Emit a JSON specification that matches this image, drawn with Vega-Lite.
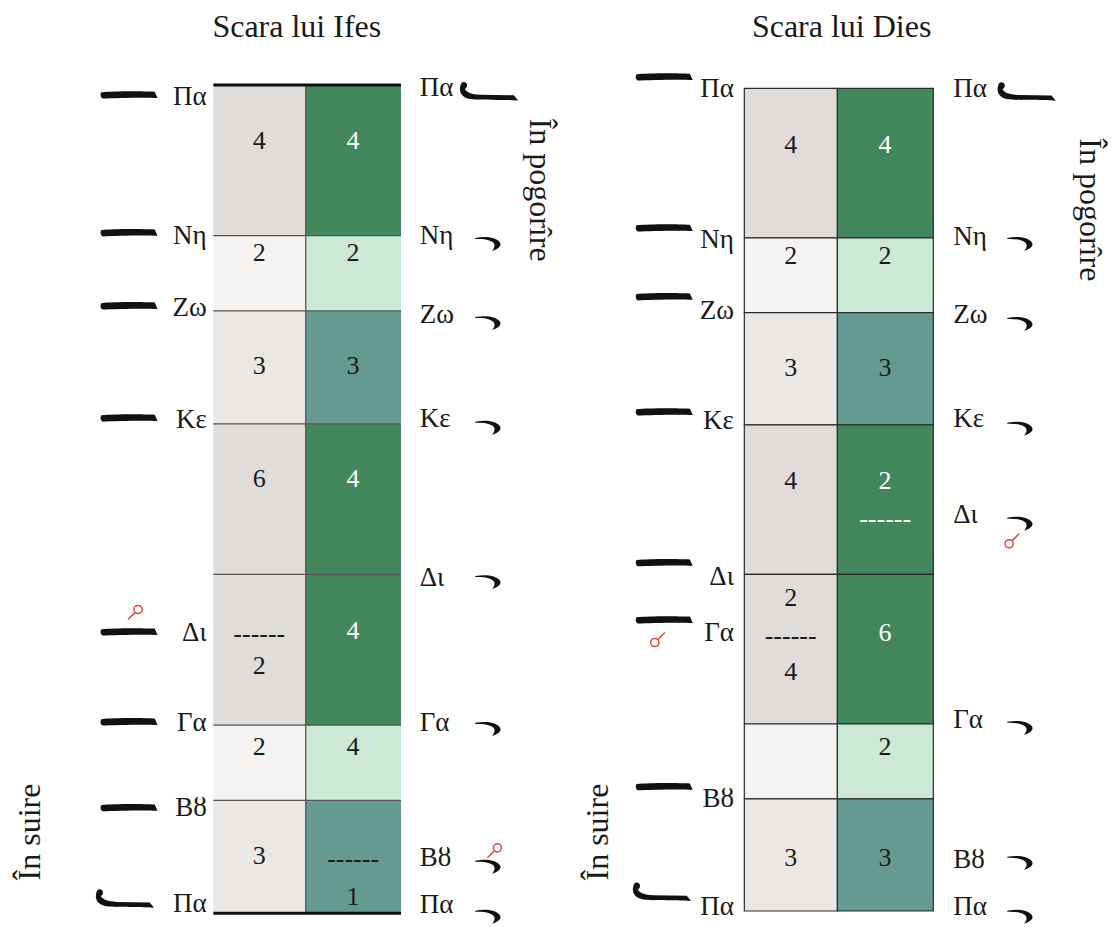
{
  "$schema": "https://vega.github.io/schema/vega-lite/v6.json",
  "padding": 0,
  "spacing": 0,
  "background": "white",
  "config": {"view": {"stroke": null}, "text": {"font": "Liberation Serif"}},
  "datasets": {
    "cells": [
      {"p": "Ifes", "x": 0, "x2": 0.985, "y": 18, "y2": 22, "ton": "gri închis"},
      {"p": "Ifes", "x": 0, "x2": 0.985, "y": 16, "y2": 18, "ton": "gri deschis"},
      {"p": "Ifes", "x": 0, "x2": 0.985, "y": 13, "y2": 16, "ton": "gri mediu"},
      {"p": "Ifes", "x": 0, "x2": 0.985, "y": 9, "y2": 13, "ton": "gri închis"},
      {"p": "Ifes", "x": 0, "x2": 0.985, "y": 5, "y2": 9, "ton": "gri închis"},
      {"p": "Ifes", "x": 0, "x2": 0.985, "y": 3, "y2": 5, "ton": "gri deschis"},
      {"p": "Ifes", "x": 0, "x2": 0.985, "y": 0, "y2": 3, "ton": "gri mediu"},
      {"p": "Ifes", "x": 0.985, "x2": 2, "y": 18, "y2": 22, "ton": "verde închis"},
      {"p": "Ifes", "x": 0.985, "x2": 2, "y": 16, "y2": 18, "ton": "verde deschis"},
      {"p": "Ifes", "x": 0.985, "x2": 2, "y": 13, "y2": 16, "ton": "verde mediu"},
      {"p": "Ifes", "x": 0.985, "x2": 2, "y": 9, "y2": 13, "ton": "verde închis"},
      {"p": "Ifes", "x": 0.985, "x2": 2, "y": 5, "y2": 9, "ton": "verde închis"},
      {"p": "Ifes", "x": 0.985, "x2": 2, "y": 3, "y2": 5, "ton": "verde deschis"},
      {"p": "Ifes", "x": 0.985, "x2": 2, "y": 0, "y2": 3, "ton": "verde mediu"},
      {"p": "Dies", "x": 0, "x2": 0.985, "y": 18, "y2": 22, "ton": "gri închis"},
      {"p": "Dies", "x": 0, "x2": 0.985, "y": 16, "y2": 18, "ton": "gri deschis"},
      {"p": "Dies", "x": 0, "x2": 0.985, "y": 13, "y2": 16, "ton": "gri mediu"},
      {"p": "Dies", "x": 0, "x2": 0.985, "y": 9, "y2": 13, "ton": "gri închis"},
      {"p": "Dies", "x": 0, "x2": 0.985, "y": 5, "y2": 9, "ton": "gri închis"},
      {"p": "Dies", "x": 0, "x2": 0.985, "y": 3, "y2": 5, "ton": "gri deschis"},
      {"p": "Dies", "x": 0, "x2": 0.985, "y": 0, "y2": 3, "ton": "gri mediu"},
      {"p": "Dies", "x": 0.985, "x2": 2, "y": 18, "y2": 22, "ton": "verde închis"},
      {"p": "Dies", "x": 0.985, "x2": 2, "y": 16, "y2": 18, "ton": "verde deschis"},
      {"p": "Dies", "x": 0.985, "x2": 2, "y": 13, "y2": 16, "ton": "verde mediu"},
      {"p": "Dies", "x": 0.985, "x2": 2, "y": 9, "y2": 13, "ton": "verde închis"},
      {"p": "Dies", "x": 0.985, "x2": 2, "y": 5, "y2": 9, "ton": "verde închis"},
      {"p": "Dies", "x": 0.985, "x2": 2, "y": 3, "y2": 5, "ton": "verde deschis"},
      {"p": "Dies", "x": 0.985, "x2": 2, "y": 0, "y2": 3, "ton": "verde mediu"}
    ],
    "borders": [
      {"p": "Ifes", "kind": "interior", "x": 0, "x2": 2, "y": 3, "y2": 3},
      {"p": "Ifes", "kind": "interior", "x": 0, "x2": 2, "y": 5, "y2": 5},
      {"p": "Ifes", "kind": "interior", "x": 0, "x2": 2, "y": 9, "y2": 9},
      {"p": "Ifes", "kind": "interior", "x": 0, "x2": 2, "y": 13, "y2": 13},
      {"p": "Ifes", "kind": "interior", "x": 0, "x2": 2, "y": 16, "y2": 16},
      {"p": "Ifes", "kind": "interior", "x": 0, "x2": 2, "y": 18, "y2": 18},
      {"p": "Ifes", "kind": "interior", "x": 0.985, "x2": 0.985, "y": 0, "y2": 22},
      {"p": "Ifes", "kind": "margine", "x": 0, "x2": 2, "y": 0, "y2": 0},
      {"p": "Ifes", "kind": "margine", "x": 0, "x2": 2, "y": 22, "y2": 22}
    ],
    "nums": [
      {"p": "Ifes", "x": 0.49, "y": 20.52, "t": "4", "ink": "negru"},
      {"p": "Ifes", "x": 0.49, "y": 17.54, "t": "2", "ink": "negru"},
      {"p": "Ifes", "x": 0.49, "y": 14.54, "t": "3", "ink": "negru"},
      {"p": "Ifes", "x": 0.49, "y": 11.54, "t": "6", "ink": "negru"},
      {"p": "Ifes", "x": 0.49, "y": 7.43, "t": "------", "ink": "negru"},
      {"p": "Ifes", "x": 0.49, "y": 6.56, "t": "2", "ink": "negru"},
      {"p": "Ifes", "x": 0.49, "y": 4.43, "t": "2", "ink": "negru"},
      {"p": "Ifes", "x": 0.49, "y": 1.51, "t": "3", "ink": "negru"},
      {"p": "Ifes", "x": 1.49, "y": 20.52, "t": "4", "ink": "alb"},
      {"p": "Ifes", "x": 1.49, "y": 17.54, "t": "2", "ink": "negru"},
      {"p": "Ifes", "x": 1.49, "y": 14.54, "t": "3", "ink": "negru"},
      {"p": "Ifes", "x": 1.49, "y": 11.54, "t": "4", "ink": "alb"},
      {"p": "Ifes", "x": 1.49, "y": 7.51, "t": "4", "ink": "alb"},
      {"p": "Ifes", "x": 1.49, "y": 4.43, "t": "4", "ink": "negru"},
      {"p": "Ifes", "x": 1.49, "y": 1.43, "t": "------", "ink": "negru"},
      {"p": "Ifes", "x": 1.49, "y": 0.42, "t": "1", "ink": "negru"},
      {"p": "Dies", "x": 0.49, "y": 20.48, "t": "4", "ink": "negru"},
      {"p": "Dies", "x": 0.49, "y": 17.51, "t": "2", "ink": "negru"},
      {"p": "Dies", "x": 0.49, "y": 14.52, "t": "3", "ink": "negru"},
      {"p": "Dies", "x": 0.49, "y": 11.49, "t": "4", "ink": "negru"},
      {"p": "Dies", "x": 0.49, "y": 8.36, "t": "2", "ink": "negru"},
      {"p": "Dies", "x": 0.49, "y": 7.36, "t": "------", "ink": "negru"},
      {"p": "Dies", "x": 0.49, "y": 6.4, "t": "4", "ink": "negru"},
      {"p": "Dies", "x": 0.49, "y": 1.41, "t": "3", "ink": "negru"},
      {"p": "Dies", "x": 1.49, "y": 20.48, "t": "4", "ink": "alb"},
      {"p": "Dies", "x": 1.49, "y": 17.51, "t": "2", "ink": "negru"},
      {"p": "Dies", "x": 1.49, "y": 14.52, "t": "3", "ink": "negru"},
      {"p": "Dies", "x": 1.49, "y": 11.49, "t": "2", "ink": "alb"},
      {"p": "Dies", "x": 1.49, "y": 10.47, "t": "------", "ink": "alb"},
      {"p": "Dies", "x": 1.49, "y": 7.43, "t": "6", "ink": "alb"},
      {"p": "Dies", "x": 1.49, "y": 4.39, "t": "2", "ink": "negru"},
      {"p": "Dies", "x": 1.49, "y": 1.41, "t": "3", "ink": "negru"}
    ],
    "notes": [
      {"p": "Ifes", "side": "st", "x": -0.07, "y": 21.68, "t": "Πα"},
      {"p": "Ifes", "side": "st", "x": -0.07, "y": 17.99, "t": "Νη"},
      {"p": "Ifes", "side": "st", "x": -0.07, "y": 16.08, "t": "Ζω"},
      {"p": "Ifes", "side": "st", "x": -0.07, "y": 13.1, "t": "Κε"},
      {"p": "Ifes", "side": "st", "x": -0.07, "y": 7.44, "t": "Δι"},
      {"p": "Ifes", "side": "st", "x": -0.07, "y": 5.05, "t": "Γα"},
      {"p": "Ifes", "side": "st", "x": -0.07, "y": 2.8, "t": "Βȣ"},
      {"p": "Ifes", "side": "st", "x": -0.07, "y": 0.25, "t": "Πα"},
      {"p": "Ifes", "side": "dr", "x": 2.2, "y": 21.92, "t": "Πα"},
      {"p": "Ifes", "side": "dr", "x": 2.2, "y": 17.99, "t": "Νη"},
      {"p": "Ifes", "side": "dr", "x": 2.2, "y": 15.89, "t": "Ζω"},
      {"p": "Ifes", "side": "dr", "x": 2.2, "y": 13.12, "t": "Κε"},
      {"p": "Ifes", "side": "dr", "x": 2.2, "y": 8.91, "t": "Δι"},
      {"p": "Ifes", "side": "dr", "x": 2.2, "y": 5.05, "t": "Γα"},
      {"p": "Ifes", "side": "dr", "x": 2.2, "y": 1.47, "t": "Βȣ"},
      {"p": "Ifes", "side": "dr", "x": 2.2, "y": 0.22, "t": "Πα"},
      {"p": "Dies", "side": "st", "x": -0.11, "y": 21.98, "t": "Πα"},
      {"p": "Dies", "side": "st", "x": -0.11, "y": 17.94, "t": "Νη"},
      {"p": "Dies", "side": "st", "x": -0.11, "y": 16.04, "t": "Ζω"},
      {"p": "Dies", "side": "st", "x": -0.11, "y": 13.1, "t": "Κε"},
      {"p": "Dies", "side": "st", "x": -0.11, "y": 8.94, "t": "Δι"},
      {"p": "Dies", "side": "st", "x": -0.11, "y": 7.43, "t": "Γα"},
      {"p": "Dies", "side": "st", "x": -0.11, "y": 3.0, "t": "Βȣ"},
      {"p": "Dies", "side": "st", "x": -0.11, "y": 0.12, "t": "Πα"},
      {"p": "Dies", "side": "dr", "x": 2.21, "y": 21.98, "t": "Πα"},
      {"p": "Dies", "side": "dr", "x": 2.21, "y": 18.02, "t": "Νη"},
      {"p": "Dies", "side": "dr", "x": 2.21, "y": 15.94, "t": "Ζω"},
      {"p": "Dies", "side": "dr", "x": 2.21, "y": 13.16, "t": "Κε"},
      {"p": "Dies", "side": "dr", "x": 2.21, "y": 10.59, "t": "Δι"},
      {"p": "Dies", "side": "dr", "x": 2.21, "y": 5.11, "t": "Γα"},
      {"p": "Dies", "side": "dr", "x": 2.21, "y": 1.36, "t": "Βȣ"},
      {"p": "Dies", "side": "dr", "x": 2.21, "y": 0.11, "t": "Πα"}
    ],
    "neumes": [
      {"p": "Ifes", "kind": "oligon", "x": -0.9, "y": 21.73},
      {"p": "Ifes", "kind": "oligon", "x": -0.9, "y": 18.07},
      {"p": "Ifes", "kind": "oligon", "x": -0.9, "y": 16.13},
      {"p": "Ifes", "kind": "oligon", "x": -0.9, "y": 13.15},
      {"p": "Ifes", "kind": "oligon", "x": -0.9, "y": 7.47},
      {"p": "Ifes", "kind": "oligon", "x": -0.9, "y": 5.08},
      {"p": "Ifes", "kind": "oligon", "x": -0.9, "y": 2.8},
      {"p": "Ifes", "kind": "cârlig", "x": -0.94, "y": 0.38},
      {"p": "Ifes", "kind": "cârlig", "x": 2.94, "y": 21.82},
      {"p": "Ifes", "kind": "apostrof", "x": 2.93, "y": 17.8},
      {"p": "Ifes", "kind": "apostrof", "x": 2.93, "y": 15.7},
      {"p": "Ifes", "kind": "apostrof", "x": 2.93, "y": 12.92},
      {"p": "Ifes", "kind": "apostrof", "x": 2.93, "y": 8.82},
      {"p": "Ifes", "kind": "apostrof", "x": 2.93, "y": 4.92},
      {"p": "Ifes", "kind": "apostrof", "x": 2.93, "y": 1.26},
      {"p": "Ifes", "kind": "apostrof", "x": 2.93, "y": -0.07},
      {"p": "Dies", "kind": "oligon", "x": -0.85, "y": 22.3},
      {"p": "Dies", "kind": "oligon", "x": -0.85, "y": 18.26},
      {"p": "Dies", "kind": "oligon", "x": -0.85, "y": 16.42},
      {"p": "Dies", "kind": "oligon", "x": -0.85, "y": 13.34},
      {"p": "Dies", "kind": "oligon", "x": -0.85, "y": 9.31},
      {"p": "Dies", "kind": "oligon", "x": -0.85, "y": 7.78},
      {"p": "Dies", "kind": "oligon", "x": -0.85, "y": 3.32},
      {"p": "Dies", "kind": "cârlig", "x": -0.87, "y": 0.5},
      {"p": "Dies", "kind": "cârlig", "x": 2.99, "y": 21.9},
      {"p": "Dies", "kind": "apostrof", "x": 2.92, "y": 17.86},
      {"p": "Dies", "kind": "apostrof", "x": 2.92, "y": 15.72},
      {"p": "Dies", "kind": "apostrof", "x": 2.92, "y": 12.92},
      {"p": "Dies", "kind": "apostrof", "x": 2.92, "y": 10.38},
      {"p": "Dies", "kind": "apostrof", "x": 2.92, "y": 4.92},
      {"p": "Dies", "kind": "apostrof", "x": 2.92, "y": 1.31},
      {"p": "Dies", "kind": "apostrof", "x": 2.92, "y": -0.13}
    ],
    "signs": [
      {"p": "Ifes", "forma": "sus", "x": -0.83, "y": 8.0},
      {"p": "Ifes", "forma": "sus", "x": 3.0, "y": 1.67},
      {"p": "Dies", "forma": "jos", "x": 2.83, "y": 9.89},
      {"p": "Dies", "forma": "jos", "x": -0.92, "y": 7.25}
    ],
    "texts": [
      {"p": "Ifes", "rol": "titlu", "x": 0.89, "y": 23.54, "t": "Scara lui Ifes"},
      {"p": "Ifes", "rol": "suire", "x": -1.95, "y": 2.16, "t": "În suire"},
      {"p": "Ifes", "rol": "pogorire", "x": 3.48, "y": 19.21, "t": "În pogorîre"},
      {"p": "Dies", "rol": "titlu", "x": 1.03, "y": 23.64, "t": "Scara lui Dies"},
      {"p": "Dies", "rol": "suire", "x": -1.55, "y": 2.11, "t": "În suire"},
      {"p": "Dies", "rol": "pogorire", "x": 3.66, "y": 18.75, "t": "În pogorîre"}
    ]
  },
  "hconcat": [
    {
      "width": 556,
      "height": 927,
      "encoding": {
        "x": {"field": "x", "type": "quantitative", "scale": {"domain": [-2.273, 3.652], "nice": false, "zero": false}, "axis": null},
        "y": {"field": "y", "type": "quantitative", "scale": {"domain": [-0.364, 24.258], "nice": false, "zero": false}, "axis": null}
      },
      "layer": [
        {
          "data": {"name": "cells"},
          "transform": [{"filter": "datum.p === 'Ifes'"}],
          "mark": {"type": "rect", "strokeWidth": 0},
          "encoding": {
            "x2": {"field": "x2"},
            "y2": {"field": "y2"},
            "fill": {"field": "ton", "type": "nominal", "legend": null,
              "scale": {"domain": ["gri închis", "gri deschis", "gri mediu", "verde închis", "verde deschis", "verde mediu"],
                        "range": ["#e0dcda", "#f4f3f1", "#ebe7e4", "#42865c", "#cde8d6", "#659a91"]}}
          }
        },
        {
          "data": {"name": "borders"},
          "transform": [{"filter": "datum.p === 'Ifes' && datum.kind === 'interior'"}],
          "mark": {"type": "rule", "color": "#555555", "strokeWidth": 1.3},
          "encoding": {"x2": {"field": "x2"}, "y2": {"field": "y2"}}
        },
        {
          "data": {"name": "borders"},
          "transform": [{"filter": "datum.p === 'Ifes' && datum.kind === 'margine'"}],
          "mark": {"type": "rule", "color": "#111111", "strokeWidth": 3},
          "encoding": {"x2": {"field": "x2"}, "y2": {"field": "y2"}}
        },
        {
          "data": {"name": "nums"},
          "transform": [{"filter": "datum.p === 'Ifes'"}],
          "mark": {"type": "text", "fontSize": 26, "align": "center", "baseline": "middle"},
          "encoding": {
            "text": {"field": "t"},
            "color": {"field": "ink", "type": "nominal", "legend": null, "scale": {"domain": ["negru", "alb"], "range": ["#1a1a1a", "#ffffff"]}}
          }
        },
        {
          "data": {"name": "notes"},
          "transform": [{"filter": "datum.p === 'Ifes' && datum.side === 'st'"}],
          "mark": {"type": "text", "fontSize": 27, "align": "right", "baseline": "middle", "color": "#1a1a1a"},
          "encoding": {"text": {"field": "t"}}
        },
        {
          "data": {"name": "notes"},
          "transform": [{"filter": "datum.p === 'Ifes' && datum.side === 'dr'"}],
          "mark": {"type": "text", "fontSize": 27, "align": "left", "baseline": "middle", "color": "#1a1a1a"},
          "encoding": {"text": {"field": "t"}}
        },
        {
          "data": {"name": "neumes"},
          "transform": [{"filter": "datum.p === 'Ifes' && datum.kind === 'oligon'"}],
          "mark": {"type": "point", "filled": true, "opacity": 1, "color": "#111111", "size": 3300,
            "shape": "M-0.95,-0.1 C-0.5,-0.15 0.5,-0.14 0.9,-0.12 L1,0.1 C0.5,0.08 -0.5,0.1 -0.92,0.12 C-1,0.06 -1,-0.05 -0.95,-0.1 Z"}
        },
        {
          "data": {"name": "neumes"},
          "transform": [{"filter": "datum.p === 'Ifes' && datum.kind === 'apostrof'"}],
          "mark": {"type": "point", "filled": true, "opacity": 1, "color": "#111111", "size": 676,
            "shape": "M-1,-0.4 C-0.2,-0.55 0.6,-0.45 0.9,-0.05 C1.05,0.2 0.8,0.45 0.3,0.6 C0.55,0.3 0.55,0.05 0.3,-0.1 C0,-0.3 -0.5,-0.33 -1,-0.32 Z"}
        },
        {
          "data": {"name": "neumes"},
          "transform": [{"filter": "datum.p === 'Ifes' && datum.kind === 'cârlig'"}],
          "mark": {"type": "point", "filled": true, "opacity": 1, "color": "#111111", "size": 3364,
            "shape": "M-0.88,-0.34 C-0.74,-0.34 -0.72,-0.16 -0.84,-0.1 C-0.78,0.02 -0.6,0.08 -0.3,0.1 L0.85,0.12 L1,0.3 C0.4,0.26 -0.4,0.3 -0.7,0.24 C-0.95,0.18 -1.04,0.0 -1.0,-0.18 C-0.98,-0.3 -0.94,-0.34 -0.88,-0.34 Z"}
        },
        {
          "data": {"name": "signs"},
          "transform": [{"filter": "datum.p === 'Ifes'"}],
          "mark": {"type": "point", "filled": false, "opacity": 1, "color": "#e8453c", "strokeWidth": 1.5, "size": 220,
            "shape": "M-0.2,-0.35 A0.55,0.55 0 1 1 0.9,-0.35 A0.55,0.55 0 1 1 -0.2,-0.35 M-0.04,0.04 L-1,1"}
        },
        {
          "data": {"name": "texts"},
          "transform": [{"filter": "datum.p === 'Ifes' && datum.rol === 'titlu'"}],
          "mark": {"type": "text", "fontSize": 32, "align": "center", "baseline": "middle", "color": "#1a1a1a"},
          "encoding": {"text": {"field": "t"}}
        },
        {
          "data": {"name": "texts"},
          "transform": [{"filter": "datum.p === 'Ifes' && datum.rol === 'suire'"}],
          "mark": {"type": "text", "fontSize": 32, "align": "center", "baseline": "middle", "angle": 270, "color": "#1a1a1a"},
          "encoding": {"text": {"field": "t"}}
        },
        {
          "data": {"name": "texts"},
          "transform": [{"filter": "datum.p === 'Ifes' && datum.rol === 'pogorire'"}],
          "mark": {"type": "text", "fontSize": 32, "align": "center", "baseline": "middle", "angle": 90, "color": "#1a1a1a"},
          "encoding": {"text": {"field": "t"}}
        }
      ]
    },
    {
      "width": 556,
      "height": 927,
      "encoding": {
        "x": {"field": "x", "type": "quantitative", "scale": {"domain": [-1.993, 3.891], "nice": false, "zero": false}, "axis": null},
        "y": {"field": "y", "type": "quantitative", "scale": {"domain": [-0.428, 24.361], "nice": false, "zero": false}, "axis": null}
      },
      "layer": [
        {
          "data": {"name": "cells"},
          "transform": [{"filter": "datum.p === 'Dies'"}],
          "mark": {"type": "rect", "stroke": "#2b2b2b", "strokeWidth": 1.2},
          "encoding": {
            "x2": {"field": "x2"},
            "y2": {"field": "y2"},
            "fill": {"field": "ton", "type": "nominal", "legend": null,
              "scale": {"domain": ["gri închis", "gri deschis", "gri mediu", "verde închis", "verde deschis", "verde mediu"],
                        "range": ["#e0dcda", "#f4f3f1", "#ebe7e4", "#42865c", "#cde8d6", "#659a91"]}}
          }
        },
        {
          "data": {"name": "nums"},
          "transform": [{"filter": "datum.p === 'Dies'"}],
          "mark": {"type": "text", "fontSize": 26, "align": "center", "baseline": "middle"},
          "encoding": {
            "text": {"field": "t"},
            "color": {"field": "ink", "type": "nominal", "legend": null, "scale": {"domain": ["negru", "alb"], "range": ["#1a1a1a", "#ffffff"]}}
          }
        },
        {
          "data": {"name": "notes"},
          "transform": [{"filter": "datum.p === 'Dies' && datum.side === 'st'"}],
          "mark": {"type": "text", "fontSize": 27, "align": "right", "baseline": "middle", "color": "#1a1a1a"},
          "encoding": {"text": {"field": "t"}}
        },
        {
          "data": {"name": "notes"},
          "transform": [{"filter": "datum.p === 'Dies' && datum.side === 'dr'"}],
          "mark": {"type": "text", "fontSize": 27, "align": "left", "baseline": "middle", "color": "#1a1a1a"},
          "encoding": {"text": {"field": "t"}}
        },
        {
          "data": {"name": "neumes"},
          "transform": [{"filter": "datum.p === 'Dies' && datum.kind === 'oligon'"}],
          "mark": {"type": "point", "filled": true, "opacity": 1, "color": "#111111", "size": 3300,
            "shape": "M-0.95,-0.1 C-0.5,-0.15 0.5,-0.14 0.9,-0.12 L1,0.1 C0.5,0.08 -0.5,0.1 -0.92,0.12 C-1,0.06 -1,-0.05 -0.95,-0.1 Z"}
        },
        {
          "data": {"name": "neumes"},
          "transform": [{"filter": "datum.p === 'Dies' && datum.kind === 'apostrof'"}],
          "mark": {"type": "point", "filled": true, "opacity": 1, "color": "#111111", "size": 676,
            "shape": "M-1,-0.4 C-0.2,-0.55 0.6,-0.45 0.9,-0.05 C1.05,0.2 0.8,0.45 0.3,0.6 C0.55,0.3 0.55,0.05 0.3,-0.1 C0,-0.3 -0.5,-0.33 -1,-0.32 Z"}
        },
        {
          "data": {"name": "neumes"},
          "transform": [{"filter": "datum.p === 'Dies' && datum.kind === 'cârlig'"}],
          "mark": {"type": "point", "filled": true, "opacity": 1, "color": "#111111", "size": 3364,
            "shape": "M-0.88,-0.34 C-0.74,-0.34 -0.72,-0.16 -0.84,-0.1 C-0.78,0.02 -0.6,0.08 -0.3,0.1 L0.85,0.12 L1,0.3 C0.4,0.26 -0.4,0.3 -0.7,0.24 C-0.95,0.18 -1.04,0.0 -1.0,-0.18 C-0.98,-0.3 -0.94,-0.34 -0.88,-0.34 Z"}
        },
        {
          "data": {"name": "signs"},
          "transform": [{"filter": "datum.p === 'Dies'"}],
          "mark": {"type": "point", "filled": false, "opacity": 1, "color": "#e8453c", "strokeWidth": 1.5, "size": 220,
            "shape": "M-0.9,0.35 A0.55,0.55 0 1 1 0.2,0.35 A0.55,0.55 0 1 1 -0.9,0.35 M0.04,-0.04 L1,-1"}
        },
        {
          "data": {"name": "texts"},
          "transform": [{"filter": "datum.p === 'Dies' && datum.rol === 'titlu'"}],
          "mark": {"type": "text", "fontSize": 32, "align": "center", "baseline": "middle", "color": "#1a1a1a"},
          "encoding": {"text": {"field": "t"}}
        },
        {
          "data": {"name": "texts"},
          "transform": [{"filter": "datum.p === 'Dies' && datum.rol === 'suire'"}],
          "mark": {"type": "text", "fontSize": 32, "align": "center", "baseline": "middle", "angle": 270, "color": "#1a1a1a"},
          "encoding": {"text": {"field": "t"}}
        },
        {
          "data": {"name": "texts"},
          "transform": [{"filter": "datum.p === 'Dies' && datum.rol === 'pogorire'"}],
          "mark": {"type": "text", "fontSize": 32, "align": "center", "baseline": "middle", "angle": 90, "color": "#1a1a1a"},
          "encoding": {"text": {"field": "t"}}
        }
      ]
    }
  ]
}
